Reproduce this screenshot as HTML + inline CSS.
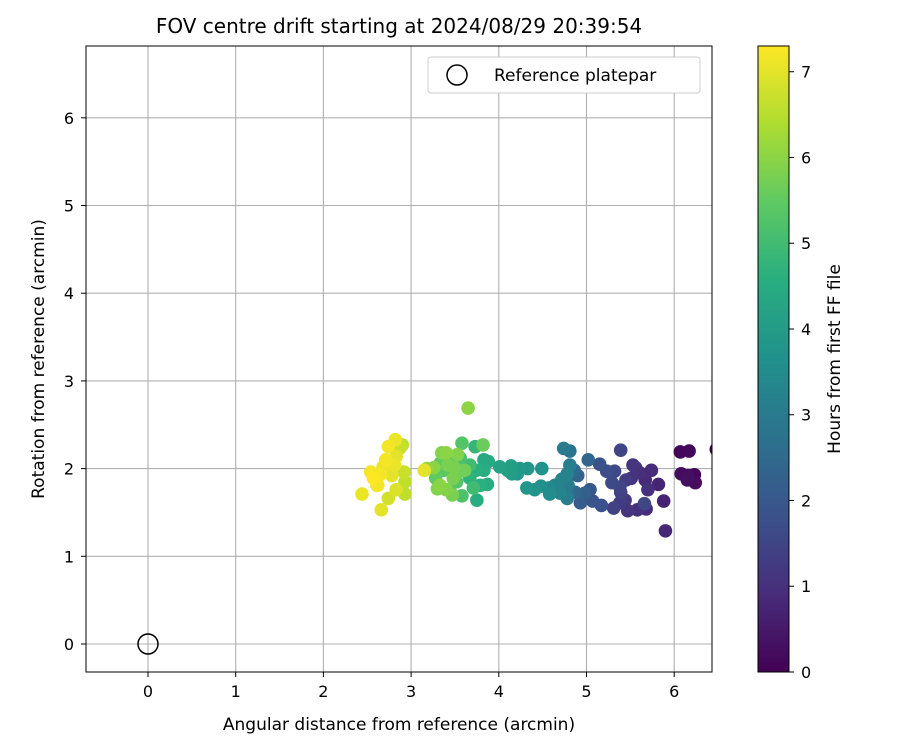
<!DOCTYPE html>
<html><head><meta charset="utf-8"><style>
body{margin:0;background:#fff;font-family:"Liberation Sans","DejaVu Sans",sans-serif}
svg text{font-family:"DejaVu Sans","Liberation Sans",sans-serif}
</style></head><body>
<svg id="chart" width="900" height="750" xmlns="http://www.w3.org/2000/svg">
<defs>
<linearGradient id="vir" x1="0" y1="1" x2="0" y2="0">
<stop offset="0" stop-color="#440154"/><stop offset="0.125" stop-color="#472d7b"/><stop offset="0.25" stop-color="#3b528b"/><stop offset="0.375" stop-color="#2c728e"/><stop offset="0.5" stop-color="#21918c"/><stop offset="0.625" stop-color="#28ae80"/><stop offset="0.75" stop-color="#5ec962"/><stop offset="0.875" stop-color="#addc30"/><stop offset="1" stop-color="#fde725"/>
</linearGradient>
<clipPath id="pc"><rect x="86" y="46" width="626" height="626"/></clipPath>
</defs>
<text x="399" y="33" font-size="20" text-anchor="middle">FOV centre drift starting at 2024/08/29 20:39:54</text>
<g id="grid"></g>
<g id="pts" clip-path="url(#pc)"></g>
<circle cx="148" cy="644" r="10" fill="none" stroke="#000" stroke-width="1.5"/>
<rect x="86" y="46" width="626" height="626" fill="none" stroke="#000" stroke-width="1"/>
<g id="xt"></g>
<g id="yt"></g>
<text x="399" y="730" font-size="17" text-anchor="middle">Angular distance from reference (arcmin)</text>
<text transform="translate(44,359) rotate(-90)" font-size="17" text-anchor="middle">Rotation from reference (arcmin)</text>
<g>
<rect x="428" y="57" width="272" height="36" rx="3" fill="#fff" stroke="#ccc"/>
<circle cx="457" cy="75" r="10" fill="none" stroke="#000" stroke-width="1.5"/>
<text x="494" y="81" font-size="17">Reference platepar</text>
</g>
<rect x="758" y="46" width="31" height="626" fill="url(#vir)" stroke="#000"/>
<g id="ct"></g>
<text transform="translate(840,359) rotate(-90)" font-size="17" text-anchor="middle">Hours from first FF file</text>
</svg>
<script>
const xs=[6.07,6.17,6.08,6.16,6.23,6.15,6.24,6.48,5.88,5.90,5.82,5.74,5.67,5.70,5.61,5.53,5.51,5.56,5.58,5.68,5.44,5.47,5.39,5.15,5.23,5.32,5.39,5.45,5.29,5.31,5.38,5.07,5.17,5.38,5.66,5.02,4.86,4.90,4.77,4.79,4.87,4.98,4.93,5.04,4.74,4.81,4.81,4.78,4.79,4.78,4.57,4.64,4.72,4.70,4.49,4.33,4.24,4.15,4.32,4.48,4.41,4.58,4.14,4.01,4.10,4.21,3.88,3.87,3.79,3.83,3.74,3.75,3.67,3.73,3.83,3.67,3.50,3.56,3.71,3.58,3.52,3.44,3.33,3.37,3.28,3.58,3.65,3.35,3.42,3.40,3.47,3.33,3.48,3.53,3.40,3.49,3.61,3.26,3.53,3.30,3.18,3.82,2.90,2.92,2.93,2.74,2.93,2.87,2.44,2.66,2.82,2.74,2.71,2.68,2.65,2.61,2.54,2.78,2.81,2.83,3.15,2.57,2.83,2.62];
const ys=[2.19,2.20,1.94,1.92,1.93,1.87,1.84,2.22,1.63,1.29,1.82,1.98,1.87,1.76,1.95,2.04,1.89,2.01,1.53,1.54,1.64,1.52,2.21,2.05,1.97,1.97,1.73,1.87,1.84,1.55,1.61,1.63,1.58,1.79,1.60,2.10,1.98,1.92,1.89,1.70,1.73,1.72,1.61,1.76,2.23,2.20,2.04,1.94,1.81,1.66,1.78,1.81,1.88,1.72,2.00,2.00,2.00,1.94,1.78,1.80,1.76,1.71,2.03,2.02,1.98,1.94,2.08,1.82,1.81,1.98,1.98,1.64,1.89,2.25,2.10,2.04,2.13,2.12,1.78,1.69,1.85,1.76,2.06,1.98,1.89,2.29,2.69,2.18,2.04,1.76,1.70,1.81,1.89,1.95,2.18,2.01,1.98,2.01,2.16,1.77,2.00,2.27,2.27,1.96,1.71,1.66,1.85,2.23,1.71,1.53,2.33,2.25,2.10,2.02,1.93,1.81,1.96,1.92,2.04,2.14,1.98,1.89,1.76,1.81];
const hrs=[0.1,0.15,0.2,0.25,0.1,0.3,0.2,0.0,0.7,0.8,0.75,0.9,0.85,1.0,0.95,1.1,1.05,1.0,1.0,0.9,1.2,1.1,1.5,1.8,1.7,1.6,1.4,1.3,1.6,1.4,1.3,1.9,1.8,1.5,1.5,2.4,2.5,2.3,2.8,2.7,2.4,2.2,2.1,2.0,3.0,2.8,3.1,3.2,3.0,3.1,3.4,3.3,3.2,3.3,3.7,3.8,3.9,4.0,3.8,3.6,3.7,3.5,4.1,4.2,4.1,3.9,4.4,4.5,4.6,4.5,4.6,4.5,4.7,4.8,4.4,5.0,5.2,5.1,5.0,5.2,5.3,5.4,5.5,5.4,5.5,5.3,6.0,5.9,5.8,5.9,5.8,6.0,5.8,5.7,6.0,5.8,5.7,6.0,5.9,5.9,6.1,5.6,6.6,6.7,6.6,6.8,6.6,6.7,7.1,7.0,7.1,7.2,7.2,7.1,7.2,7.1,7.2,7.0,7.1,7.0,7.0,7.3,6.9,7.2];
const xTicks=[0,1,2,3,4,5,6], yTicks=[0,1,2,3,4,5,6], cTicks=[0,1,2,3,4,5,6,7];
const cMax=7.3;
const sx=v=>148+v*87.7, sy=v=>644-v*87.7, sc=v=>672-v*626/cMax;
const stops=[[68,1,84],[71,45,123],[59,82,139],[44,114,142],[33,145,140],[40,174,128],[94,201,98],[173,220,48],[253,231,37]];
function vir(t){t=Math.max(0,Math.min(1,t/cMax))*8;const i=Math.min(7,Math.floor(t)),f=t-i,a=stops[i],b=stops[i+1];return `rgb(${a.map((c,k)=>Math.round(c+(b[k]-c)*f)).join(',')})`;}
const NS='http://www.w3.org/2000/svg';
function mk(tag,at,p){const e=document.createElementNS(NS,tag);for(const k in at)e.setAttribute(k,at[k]);p.appendChild(e);return e;}
const g=document.getElementById('grid'),xt=document.getElementById('xt'),yt=document.getElementById('yt'),ct=document.getElementById('ct'),pts=document.getElementById('pts');
xTicks.forEach(v=>{const x=sx(v);
const l=mk('line',{x1:x,x2:x,y1:46,y2:672,stroke:'#b0b0b0','stroke-width':1.1},g);

mk('line',{x1:x,x2:x,y1:672,y2:677,stroke:'#000'},xt);
const t=mk('text',{x:x,y:697,'font-size':16,'text-anchor':'middle'},xt);t.textContent=v;
});
yTicks.forEach(v=>{const y=sy(v);
const l=mk('line',{x1:86,x2:712,y1:y,y2:y,stroke:'#b0b0b0','stroke-width':1.1},g);

mk('line',{x1:81,x2:86,y1:y,y2:y,stroke:'#000'},yt);
const t=mk('text',{x:74,y:y+6,'font-size':16,'text-anchor':'end'},yt);t.textContent=v;
});
cTicks.forEach(v=>{const y=sc(v);
mk('line',{x1:789,x2:794,y1:y,y2:y,stroke:'#000'},ct);
const t=mk('text',{x:801,y:y+6,'font-size':16},ct);t.textContent=v;
});
const idx=hrs.map((h,i)=>i).sort((a,b)=>hrs[a]-hrs[b]);
idx.forEach(i=>{const c=mk('circle',{cx:sx(xs[i]),cy:sy(ys[i]),r:6.8,fill:vir(hrs[i])},pts);

});
</script>
</body></html>
